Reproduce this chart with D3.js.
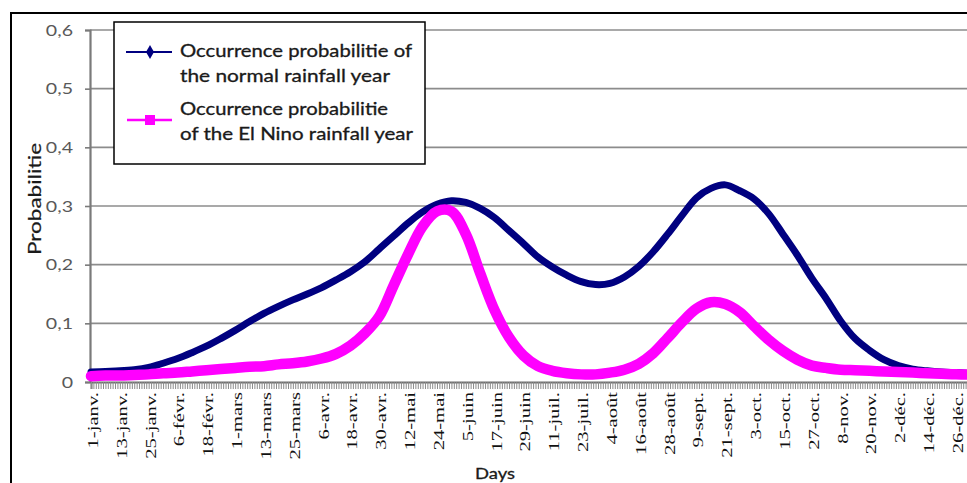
<!DOCTYPE html>
<html><head><meta charset="utf-8">
<script src="https://cdn.jsdelivr.net/npm/d3@7"></script>
<style>body{margin:0;background:#fff} svg{display:block}</style>
</head><body><svg id="c" width="967" height="483"></svg>
<script>
const tickLabels = ["1-janv.","13-janv.","25-janv.","6-févr.","18-févr.","1-mars","13-mars","25-mars","6-avr.","18-avr.","30-avr.","12-mai","24-mai","5-juin","17-juin","29-juin","11-juil.","23-juil.","4-août","16-août","28-août","9-sept.","21-sept.","3-oct.","15-oct.","27-oct.","8-nov.","20-nov.","2-déc.","14-déc.","26-déc."];
const labelStep = 12;
const days = [0,6,12,18,24,30,36,42,48,54,60,66,72,78,84,90,96,102,108,114,120,126,132,138,144,150,156,162,168,174,180,186,192,198,204,210,216,222,228,234,240,246,252,258,264,270,276,282,288,294,300,306,312,318,324,330,336,342,348,354,360,365];
const normalYear = [0.017,0.018,0.019,0.021,0.025,0.032,0.040,0.050,0.061,0.074,0.088,0.103,0.117,0.129,0.140,0.150,0.161,0.174,0.188,0.205,0.227,0.249,0.271,0.290,0.303,0.309,0.306,0.296,0.280,0.258,0.236,0.213,0.196,0.182,0.171,0.166,0.168,0.179,0.197,0.222,0.252,0.284,0.314,0.330,0.336,0.326,0.312,0.287,0.252,0.216,0.177,0.142,0.104,0.074,0.054,0.038,0.028,0.022,0.019,0.017,0.016,0.015];
const elNinoYear = [0.010,0.011,0.011,0.012,0.013,0.015,0.016,0.018,0.020,0.022,0.024,0.026,0.027,0.030,0.032,0.035,0.040,0.048,0.062,0.083,0.112,0.165,0.218,0.265,0.291,0.291,0.252,0.185,0.122,0.076,0.045,0.027,0.019,0.015,0.013,0.013,0.016,0.021,0.031,0.049,0.075,0.102,0.125,0.136,0.133,0.119,0.095,0.072,0.053,0.038,0.028,0.024,0.021,0.020,0.019,0.018,0.017,0.016,0.015,0.014,0.013,0.013];
const yTicks = [0,0.1,0.2,0.3,0.4,0.5,0.6];
const legendNormal = ["Occurrence probabilitie of","the normal rainfall year"];
const legendElNino = ["Occurrence probabilitie","of the El Nino rainfall year"];
const xTitle = "Days";
const yTitle = "Probabilitie";

const svg = d3.select("#c");
const x = d3.scaleLinear().domain([0,365]).range([91, 968]);
const y = d3.scaleLinear().domain([0,0.6]).range([382,30]);
const sans = "Lato, 'Open Sans', sans-serif";

svg.append("rect").attr("width",967).attr("height",483).attr("fill","#fff");
svg.append("path").attr("d","M11,483 V13 H967").attr("fill","none").attr("stroke","#000").attr("stroke-width",2);

// gridlines
svg.append("g").selectAll("line").data(yTicks.slice(1)).join("line")
  .attr("x1",90).attr("x2",967).attr("y1",d=>y(d)).attr("y2",d=>y(d))
  .attr("stroke","#8c8c8c").attr("stroke-width",1.6);

// y axis
const yAx = svg.append("g").attr("transform","translate(90,0)")
  .call(d3.axisLeft(y).tickValues(yTicks).tickSize(5).tickFormat(d=> d===0 ? "0" : d3.format(".1f")(d).replace(".",",")));
yAx.select(".domain").attr("stroke","#7a7a7a").attr("stroke-width",2.2);
yAx.selectAll(".tick line").attr("stroke","#7a7a7a").attr("stroke-width",1.6);
yAx.selectAll(".tick text").attr("font-family",sans).attr("font-size",14.5).attr("fill","#595959")
  .attr("text-anchor","end").attr("x",0).attr("dy","0.35em")
  .attr("transform","translate(-17,0) scale(1.35,1)");

// x axis: daily ticks
const xAx = svg.append("g").attr("transform",`translate(0,${y(0)})`)
  .call(d3.axisBottom(x).tickValues(d3.range(0,366)).tickSize(7).tickFormat(""));
xAx.select(".domain").attr("stroke","#6e6e6e").attr("stroke-width",2);
xAx.selectAll(".tick line").attr("stroke","#8a8a8a").attr("stroke-width",1);

// x axis labels
const xLab = svg.append("g").attr("transform",`translate(0,${y(0)})`)
  .call(d3.axisBottom(x).tickValues(tickLabels.map((_,i)=>i*labelStep)).tickSize(0).tickFormat((d,i)=>tickLabels[i]));
xLab.select(".domain").remove();
xLab.selectAll(".tick text").attr("font-family","'Liberation Serif', 'Times New Roman', serif").attr("font-size",15.5)
  .attr("fill","#111").attr("text-anchor","end").attr("x",0).attr("y",0).attr("dy","0.35em")
  .attr("transform","translate(1,10) rotate(-90) scale(1.33,1)");

// series
const line = d3.line().x(d=>x(d[0])).y(d=>y(d[1])).curve(d3.curveCatmullRom.alpha(0.5));
svg.append("path").datum(days.map((d,i)=>[d,normalYear[i]])).attr("d",line)
  .attr("fill","none").attr("stroke","#000080").attr("stroke-width",7).attr("stroke-linejoin","round").attr("stroke-linecap","round");
svg.append("path").datum(days.map((d,i)=>[d,elNinoYear[i]])).attr("d",line)
  .attr("fill","none").attr("stroke","#ff00ff").attr("stroke-width",10.5).attr("stroke-linejoin","round").attr("stroke-linecap","round");

// titles
svg.append("text").attr("x",495).attr("y",479).attr("text-anchor","middle")
  .attr("font-family",sans).attr("font-size",15).attr("fill","#1a1a1a").attr("stroke","#1a1a1a").attr("stroke-width",0.3)
  .attr("textLength",40).attr("lengthAdjust","spacingAndGlyphs").text(xTitle);
svg.append("text").attr("transform","translate(41,199) rotate(-90)").attr("text-anchor","middle")
  .attr("font-family",sans).attr("font-size",17).attr("fill","#1a1a1a").attr("stroke","#1a1a1a").attr("stroke-width",0.2)
  .attr("textLength",112).attr("lengthAdjust","spacingAndGlyphs").text(yTitle);

// legend
const lg = svg.append("g");
lg.append("rect").attr("x",114).attr("y",22).attr("width",311).attr("height",142)
  .attr("fill","#fff").attr("stroke","#000").attr("stroke-width",1.5);
lg.append("line").attr("x1",126).attr("x2",172).attr("y1",52).attr("y2",52).attr("stroke","#000080").attr("stroke-width",2.2);
lg.append("path").attr("d",d3.symbol(d3.symbolDiamond,55)()).attr("transform","translate(150,52)").attr("fill","#000080");
lg.append("line").attr("x1",127).attr("x2",172).attr("y1",120).attr("y2",120).attr("stroke","#ff00ff").attr("stroke-width",2.6);
lg.append("rect").attr("x",145).attr("y",115).attr("width",10).attr("height",10).attr("fill","#ff00ff");
const legendLines = [
  {t:legendNormal[0], y:57, w:232},
  {t:legendNormal[1], y:82, w:210},
  {t:legendElNino[0], y:115, w:208},
  {t:legendElNino[1], y:140, w:233}
];
lg.selectAll("text.lt").data(legendLines).join("text").attr("class","lt")
  .attr("x",180).attr("y",d=>d.y).attr("font-family",sans).attr("font-size",16.5)
  .attr("fill","#1a1a1a").attr("stroke","#1a1a1a").attr("stroke-width",0.3)
  .attr("textLength",d=>d.w).attr("lengthAdjust","spacingAndGlyphs").text(d=>d.t);
</script>
</body></html>
